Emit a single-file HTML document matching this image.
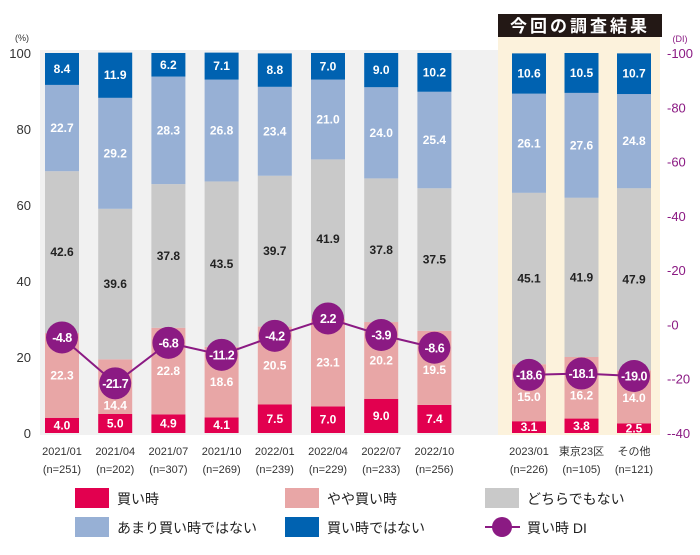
<!DOCTYPE html>
<html><head><meta charset="utf-8"><style>
body{margin:0;background:#fff;}
svg text{font-family:"Liberation Sans","Noto Sans CJK JP",sans-serif;}
</style></head><body>
<svg id="chart" width="700" height="550" viewBox="0 0 700 550" xmlns="http://www.w3.org/2000/svg">
<rect x="40" y="50" width="458" height="385" fill="#f1f1f1"/>
<rect x="498" y="37" width="162" height="398" fill="#fcf2dc"/>
<rect x="498" y="14" width="164" height="23" fill="#231815"/>
<text x="580" y="32" fill="#fff" font-size="17" font-weight="bold" text-anchor="middle" letter-spacing="3">今回の調査結果</text>
<text x="22" y="41" font-size="9" fill="#333" text-anchor="middle">(%)</text>
<text x="680" y="42" font-size="9" fill="#8b1a83" text-anchor="middle">(DI)</text>
<g id="axes"></g><g id="bars"></g><g id="di"></g><g id="xlabels"></g>
<g id="legend"></g>
</svg>
<script>
const categories=["2021/01","2021/04","2021/07","2021/10","2022/01","2022/04","2022/07","2022/10","2023/01","東京23区","その他"];
const sampleSizes=["(n=251)","(n=202)","(n=307)","(n=269)","(n=239)","(n=229)","(n=233)","(n=256)","(n=226)","(n=105)","(n=121)"];
const buyNow=[4.0,5.0,4.9,4.1,7.5,7.0,9.0,7.4,3.1,3.8,2.5];
const somewhatBuy=[22.3,14.4,22.8,18.6,20.5,23.1,20.2,19.5,15.0,16.2,14.0];
const neutral=[42.6,39.6,37.8,43.5,39.7,41.9,37.8,37.5,45.1,41.9,47.9];
const notReally=[22.7,29.2,28.3,26.8,23.4,21.0,24.0,25.4,26.1,27.6,24.8];
const notBuy=[8.4,11.9,6.2,7.1,8.8,7.0,9.0,10.2,10.6,10.5,10.7];
const diValues=[-4.8,-21.7,-6.8,-11.2,-4.2,2.2,-3.9,-8.6,-18.6,-18.1,-19.0];
const leftTicks=[0,20,40,60,80,100];
const rightTicks=[-40,-20,0,20,40,60,80,100];

const NS="http://www.w3.org/2000/svg";
const Y0=433,Y100=53;
const yL=v=>Y0-(v/100)*(Y0-Y100);
const yR=v=>Y0-((v+40)/140)*(Y0-Y100);
const xC=i=>i<8?62+i*53.2:529+(i-8)*52.5;
const BW=34;
function mk(tag,attrs,parent,txt){const e=document.createElementNS(NS,tag);for(const k in attrs)e.setAttribute(k,attrs[k]);if(txt!==undefined)e.textContent=txt;parent.appendChild(e);return e;}
const axes=document.getElementById('axes');
leftTicks.forEach(t=>{const e=mk('text',{x:31,y:yL(t)+5,'font-size':13,fill:'#333','text-anchor':'end'},axes,String(t));

});
rightTicks.forEach(t=>{const e=mk('text',{x:667,y:yR(t)+5,'font-size':13,fill:'#8b1a83'},axes,'-'+String(t));

});
const series=[
 {d:buyNow,c:'#e2004f',t:'#fff',n:'buy-now'},
 {d:somewhatBuy,c:'#e8a6a6',t:'#fff',n:'somewhat-buy'},
 {d:neutral,c:'#c9c9c9',t:'#222',n:'neutral'},
 {d:notReally,c:'#97b0d5',t:'#fff',n:'not-really'},
 {d:notBuy,c:'#0062b1',t:'#fff',n:'not-buy-time'}];
const bars=document.getElementById('bars');
categories.forEach((cat,i)=>{
 let acc=0;
 series.forEach((s,si)=>{
  const v=s.d[i];const top=yL(acc+v),bot=yL(acc);
  const r=mk('rect',{x:xC(i)-BW/2,y:top,width:BW,height:bot-top,fill:s.c},bars);
  
  
  let ly=(top+bot)/2+4;
  if(si===1){const cy=yR(diValues[i]);if(Math.abs(ly-4-cy)<25) ly=cy+26;}
  const t=mk('text',{x:xC(i),y:ly,'font-size':12,'font-weight':'bold',fill:s.t,'text-anchor':'middle'},bars,v.toFixed(1));
  
  
  acc+=v;
 });
});
const di=document.getElementById('di');
function line(from,to){let p='';for(let i=from;i<=to;i++)p+=(i===from?'M':'L')+xC(i)+','+yR(diValues[i]);
 const l=mk('path',{d:p,stroke:'#8b1a83','stroke-width':2,fill:'none'},di);
 
 }
line(0,7);line(8,10);
diValues.forEach((v,i)=>{
 const c=mk('circle',{cx:xC(i),cy:yR(v),r:16,fill:'#8b1a83'},di);
 
 
 const t=mk('text',{x:xC(i),y:yR(v)+4.5,'font-size':12.5,'font-weight':'bold',fill:'#fff','text-anchor':'middle','letter-spacing':'-0.5'},di,v.toFixed(1));
 
 
});
const xl=document.getElementById('xlabels');
categories.forEach((c,i)=>{
 const t=mk('text',{x:xC(i),y:455,'font-size':11,fill:'#333','text-anchor':'middle'},xl,c);
 
 
 const n=mk('text',{x:xC(i),y:473,'font-size':11,fill:'#333','text-anchor':'middle'},xl,sampleSizes[i]);
 
 
});
const lg=document.getElementById('legend');
const legendItems=[
 {x:75,y:488,c:'#e2004f',t:'買い時'},{x:285,y:488,c:'#e8a6a6',t:'やや買い時'},{x:485,y:488,c:'#c9c9c9',t:'どちらでもない'},
 {x:75,y:517,c:'#97b0d5',t:'あまり買い時ではない'},{x:285,y:517,c:'#0062b1',t:'買い時ではない'}];
legendItems.forEach((it,i)=>{
 const r=mk('rect',{x:it.x,y:it.y,width:34,height:20,fill:it.c},lg);
 
 
 const t=mk('text',{x:it.x+42,y:it.y+16,'font-size':14,fill:'#222'},lg,it.t);
 
 
});
const ll=mk('line',{x1:485,y1:527,x2:520,y2:527,stroke:'#8b1a83','stroke-width':2},lg);


const lc=mk('circle',{cx:502,cy:527,r:10,fill:'#8b1a83'},lg);


const lt=mk('text',{x:527,y:533,'font-size':14,fill:'#222'},lg,'買い時 DI');


</script>
</body></html>
